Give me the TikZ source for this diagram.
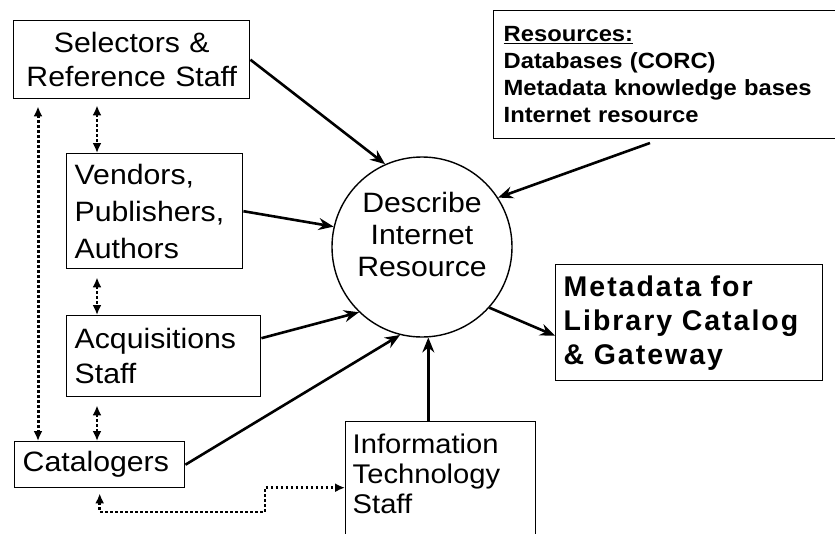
\documentclass[tikz,border=0pt]{standalone}
\usepackage{fontspec}
\setmainfont[FakeStretch=1.08]{Liberation Sans}
\newfontfamily\metafont[LetterSpace=7]{Liberation Sans}
\usetikzlibrary{arrows.meta}

\begin{document}
\begin{tikzpicture}[x=1pt, y=-1pt, >={Stealth[length=15pt,width=12pt,inset=5pt]}, line width=2.6pt]
\tikzstyle{box}=[draw, rectangle, line width=1.4pt, anchor=north west, inner xsep=8pt, inner ysep=0pt, align=left, font=\fontsize{28}{35}\selectfont]
\tikzstyle{dotarr}=[line width=2.6pt, dash pattern=on 2.6pt off 2.4pt, {Latex[length=10pt,width=9pt]}-{Latex[length=10pt,width=9pt]}]
\useasboundingbox (0,0) rectangle (835,533);
\node[box, align=center, minimum width=236pt, minimum height=78pt, text width=220pt, font=\fontsize{28}{34}\selectfont] (sel) at (13,20) {Selectors \&\\Reference Staff};
\node[box, minimum width=176pt, minimum height=115pt, text width=160pt, font=\fontsize{28}{37}\selectfont] (ven) at (66,153) {Vendors,\\Publishers,\\Authors};
\node[box, minimum width=194pt, minimum height=81pt, text width=178pt] (acq) at (66,315) {Acquisitions\\Staff};
\node[box, minimum width=170pt, minimum height=46pt, text width=154pt] (cat) at (14,441) {Catalogers};
\node[box, inner xsep=7pt, inner ysep=12pt, font=\fontsize{27}{30}\selectfont] (it) at (345,421) {\parbox[c][130pt][t]{176pt}{Information\\Technology\\Staff}};
\node[box, inner xsep=8pt, minimum width=267pt, minimum height=116pt, text width=251pt, font=\metafont\bfseries\fontsize{28.5}{34}\selectfont] (meta) at (555,264) {Metadata for\\Library Catalog\\\& Gateway};
\node[box, inner xsep=10pt, minimum width=347pt, minimum height=128pt, text width=327pt, font=\bfseries\fontsize{22}{27}\selectfont] (res) at (493,10) {\underline{Resources:}\\Databases (CORC)\\Metadata knowledge bases\\Internet resource};
\node[circle, draw, line width=1.4pt, minimum size=180pt, align=center, text depth=26pt, font=\fontsize{28}{32}\selectfont] (circ) at (422,247) {Describe\\Internet\\Resource};
\coordinate (resout) at (650,143);
\coordinate (itbend) at (265,512);
% solid flows into and out of the process
\path[->]
(sel.east)                edge (circ.114)
(resout)                  edge (circ.33)
(ven.east)                edge (circ.167)
([yshift=18pt]acq.east)   edge (circ.226)
(cat.east)                edge (circ.256)
(it.north -| circ.274)    edge (circ.274)
(circ.318)                edge ([yshift=-13pt]meta.west);
% dotted links between the staff boxes
\draw[dotarr, line width=3pt, dash pattern=on 3pt off 2pt] ([shift={(25pt,-7pt)}]sel.south west) -- ([xshift=24pt]cat.north west);
\draw[dotarr] ([shift={(84pt,-6pt)}]sel.south west) -- ([xshift=31pt]ven.north west);
\draw[dotarr] ([shift={(31pt,-8pt)}]ven.south west) -- ([xshift=31pt]acq.north west);
\draw[dotarr] ([shift={(31pt,-8pt)}]acq.south west) -- ([xshift=83pt]cat.north west);
\draw[dotarr] ([yshift=-5pt]cat.south) |- (itbend) |- ([yshift=11pt]it.west);
\end{tikzpicture}
\end{document}
